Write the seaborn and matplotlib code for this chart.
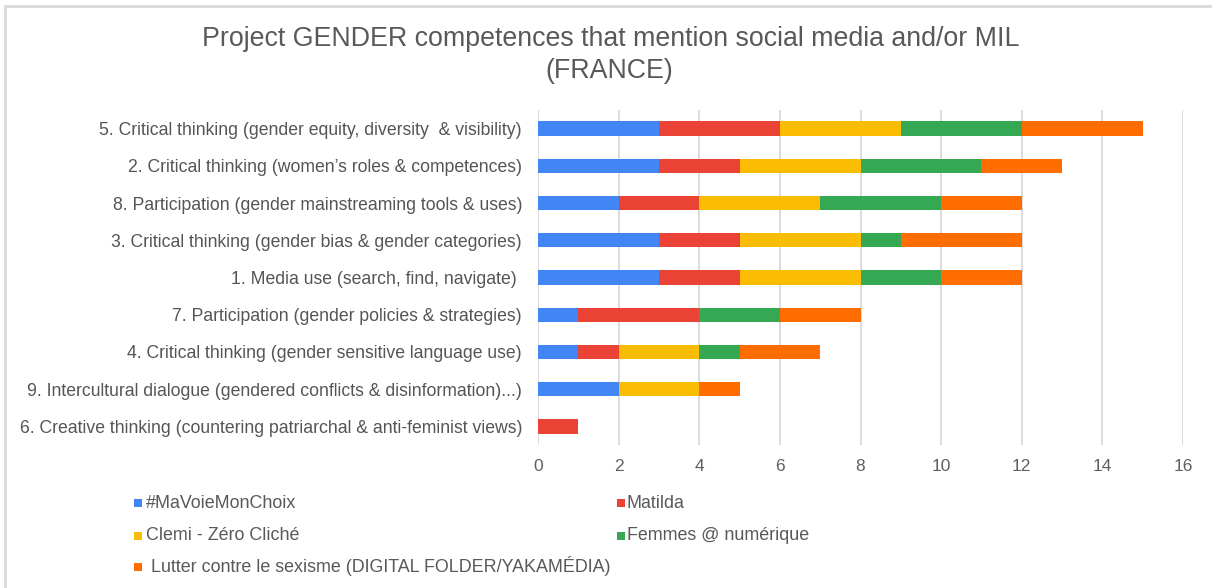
import matplotlib
matplotlib.use("Agg")
import matplotlib.pyplot as plt
from matplotlib.lines import Line2D
from matplotlib.patches import Rectangle
import numpy as np
import pandas as pd
import seaborn as sns

# Competences, listed top to bottom
competences = [
    "5. Critical thinking (gender equity, diversity  & visibility)",
    "2. Critical thinking (women\u2019s roles & competences)",
    "8. Participation (gender mainstreaming tools & uses)",
    "3. Critical thinking (gender bias & gender categories)",
    "1. Media use (search, find, navigate) ",
    "7. Participation (gender policies & strategies)",
    "4. Critical thinking (gender sensitive language use)",
    "9. Intercultural dialogue (gendered conflicts & disinformation)...)",
    "6. Creative thinking (countering patriarchal & anti-feminist views)",
]

# Mentions per project
ma_voie = [3, 3, 2, 3, 3, 1, 1, 2, 0]
matilda = [3, 2, 2, 2, 2, 3, 1, 0, 1]
clemi = [3, 3, 3, 3, 3, 0, 2, 2, 0]
femmes = [3, 3, 3, 1, 2, 2, 1, 0, 0]
lutter = [3, 2, 2, 3, 2, 2, 2, 1, 0]

series_names = [
    "#MaVoieMonChoix",
    "Matilda",
    "Clemi - Z\u00e9ro Clich\u00e9",
    "Femmes @ num\u00e9rique",
    " Lutter contre le sexisme (DIGITAL FOLDER/YAKAM\u00c9DIA)",
]
series_values = [ma_voie, matilda, clemi, femmes, lutter]
colors = ["#4285F4", "#EA4335", "#FBBC04", "#34A853", "#FF6D01"]

x_ticks = [0, 2, 4, 6, 8, 10, 12, 14, 16]

df = pd.DataFrame({"competence": competences})
for name, vals in zip(series_names, series_values):
    df[name] = vals
cum = df[series_names].cumsum(axis=1)

sns.set_theme(style="white")
plt.rcParams["font.family"] = ["Liberation Sans", "DejaVu Sans"]

W, H = 1212, 588
fig = plt.figure(figsize=(W / 100, H / 100), dpi=100)
fig.patch.set_facecolor("white")

ax_l, ax_r, ax_t, ax_b = 538, 1183, 110, 445
ax = fig.add_axes([ax_l / W, 1 - ax_b / H, (ax_r - ax_l) / W, (ax_b - ax_t) / H])

# Stacked bars: draw cumulative totals from the outermost segment inward
for name, col in reversed(list(zip(series_names, colors))):
    sns.barplot(
        x=cum[name], y=df["competence"], orient="h", color=col,
        width=0.385, linewidth=0, saturation=1, ax=ax, zorder=3,
    )

ax.set_xlim(0, 16)
ax.set_ylim(8.5, -0.5)
ax.set_xticks(x_ticks)
ax.set_xticklabels([str(t) for t in x_ticks])
ax.set_xlabel("")
ax.set_ylabel("")
ax.grid(axis="x", color="#d6d6d6", linewidth=1.2, zorder=0)
ax.grid(axis="y", visible=False)
for s in ax.spines.values():
    s.set_visible(False)
ax.tick_params(axis="x", length=0, pad=10, labelsize=12.5, labelcolor="#5f5f5f")
ax.tick_params(axis="y", length=0, pad=11.5, labelsize=12.7, labelcolor="#555555")

# Title
title_kw = dict(ha="center", va="baseline", fontsize=19.3, color="#595959")
fig.text(611 / W, 1 - 45.5 / H, "Project GENDER competences that mention social media and/or MIL", **title_kw)
fig.text(609 / W, 1 - 77.5 / H, "(FRANCE)", **title_kw)

# Legend entries placed by hand: (marker centre x, row centre y, text x, text baseline y)
legend_pos = [
    (138, 503, 146, 507.5),
    (621, 503, 627, 507.5),
    (138, 536, 146, 540.5),
    (621, 536, 627, 540.5),
    (138, 567, 146, 571.5),
]
sq = 7.5
for (mx, my, tx, ty), name, col in zip(legend_pos, series_names, colors):
    fig.patches.append(Rectangle(((mx - sq / 2) / W, 1 - (my + sq / 2) / H), sq / W, sq / H,
                                 transform=fig.transFigure, facecolor=col, edgecolor="none"))
    fig.text(tx / W, 1 - ty / H, name, ha="left", va="baseline", fontsize=12.9, color="#595959")

# Chart frame
fig.add_artist(Line2D([5 / W, 1.0], [1 - 6 / H, 1 - 6 / H], transform=fig.transFigure,
                      color="#d9d9d9", linewidth=2))
fig.add_artist(Line2D([5 / W, 5 / W], [1 - 6 / H, 0.0], transform=fig.transFigure,
                      color="#d9d9d9", linewidth=2))

fig.savefig("out.png", dpi=100, facecolor="white")
